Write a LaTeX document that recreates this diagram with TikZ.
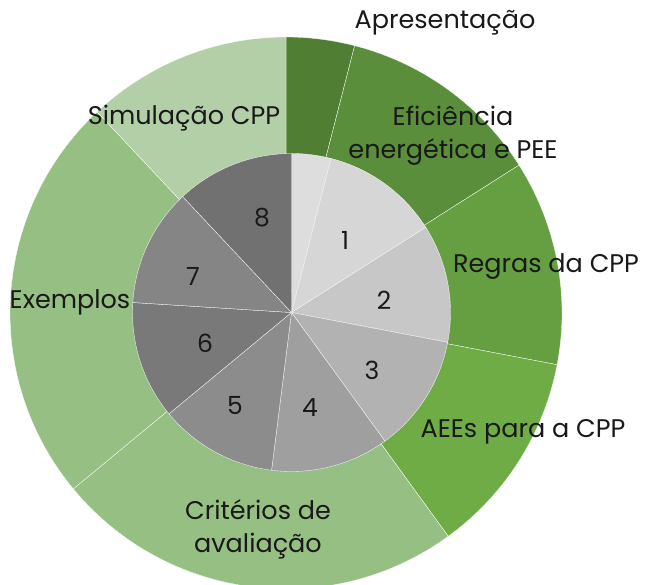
\documentclass[tikz,border=0pt]{standalone}
\usepackage{fontspec}
\setmainfont{Poppins}

\definecolor{gApres}{HTML}{507E32}
\definecolor{gEfic}{HTML}{5A8E3A}
\definecolor{gRegras}{HTML}{659F41}
\definecolor{gAEE}{HTML}{6FAC46}
\definecolor{gCrit}{HTML}{96BF83}
\definecolor{gSimul}{HTML}{B2CFA7}

\tikzset{
  slice/.style={draw=white, line width=0.3pt},
  lbl/.style={font=\fontsize{25.5}{33}\selectfont, text=black!90, align=center, inner sep=0pt},
  num/.style={font=\fontsize{25}{30}\selectfont, text=black!90, inner sep=0pt}
}

\begin{document}
\begin{tikzpicture}[x=1pt, y=1pt]
    \useasboundingbox (0,0) rectangle (645,584);
    \coordinate (oc) at (286,271);
    \coordinate (ic) at (291.5,271.5);

    % Outer ring
    \foreach \a/\b/\c in {90/75.6/gApres, 75.6/32.4/gEfic, 32.4/-10.8/gRegras,
        -10.8/-54/gAEE, -54/-140.4/gCrit, -140.4/-226.8/gCrit, -226.8/-270/gSimul}
        \filldraw[slice, fill=\c] (oc) -- ++(\a:276) arc[start angle=\a, end angle=\b, radius=276] -- cycle;

    % Inner pie
    \foreach \a/\b/\g in {90/75.6/86.5, 75.6/32.4/84, 32.4/-10.8/78, -10.8/-54/70,
        -54/-97.2/62.5, -97.2/-140.4/55, -140.4/-183.6/47.5, -183.6/-226.8/52, -226.8/-270/44.5}
        \filldraw[slice, fill=white!\g!black] (ic) -- ++(\a:159) arc[start angle=\a, end angle=\b, radius=159] -- cycle;

    % Labels
    \node[lbl] (apres) at (445,561) {Apresentação};
    \node[lbl] (efic) at (453,448) {Eficiência\\energética e PEE};
    \node[lbl] (regras) at (546,317) {Regras da CPP};
    \node[lbl] (aee) at (523,152) {AEEs para a CPP};
    \node[lbl] (crit) at (258,55) {Critérios de\\avaliação};
    \node[lbl] (exem) at (70,282) {Exemplos};
    \node[lbl] (simul) at (184,466) {Simulação CPP};

    % Numbers
    \node[num] (n1) at (345,344) {1};
    \node[num] (n2) at (384,284) {2};
    \node[num] (n3) at (372,214) {3};
    \node[num] (n4) at (310,176) {4};
    \node[num] (n5) at (235,179) {5};
    \node[num] (n6) at (205,241) {6};
    \node[num] (n7) at (193,308) {7};
    \node[num] (n8) at (262,366) {8};
\end{tikzpicture}
\end{document}
